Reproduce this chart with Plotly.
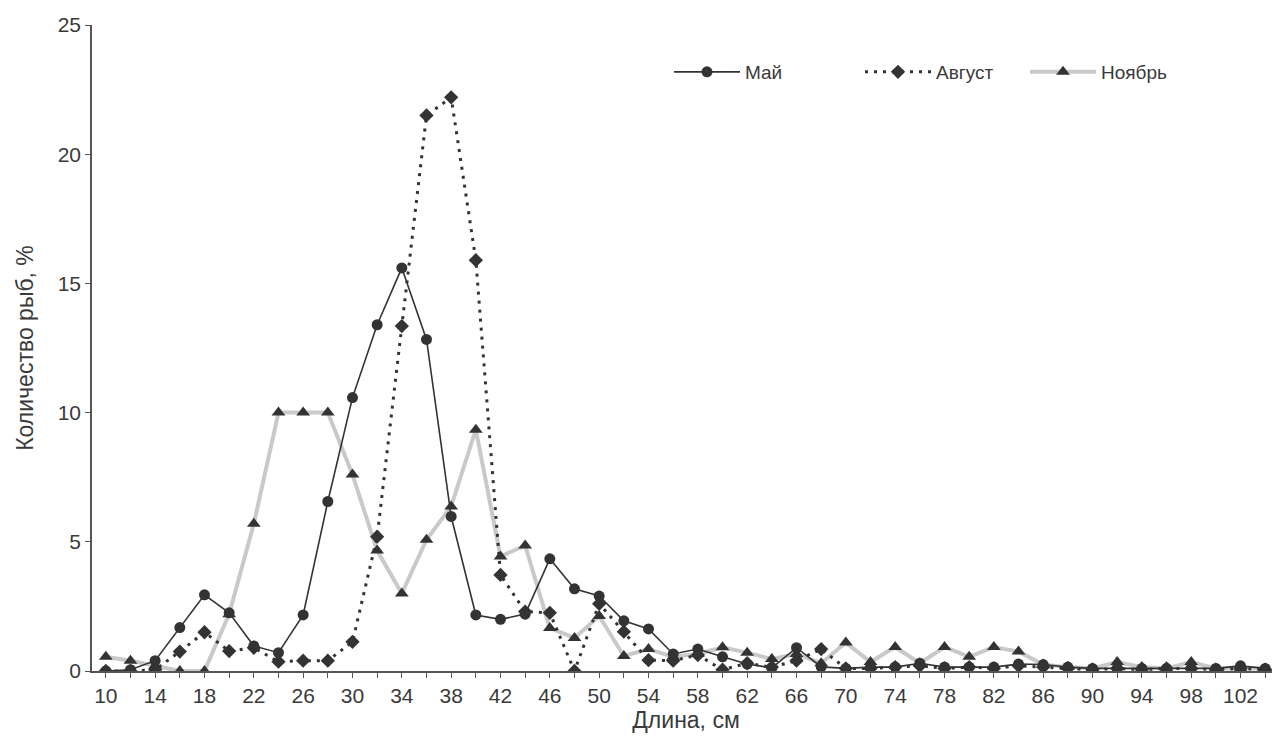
import plotly.graph_objects as go

lengths = [10, 12, 14, 16, 18, 20, 22, 24, 26, 28, 30, 32, 34, 36, 38, 40,
           42, 44, 46, 48, 50, 52, 54, 56, 58, 60, 62, 64, 66, 68, 70, 72,
           74, 76, 78, 80, 82, 84, 86, 88, 90, 92, 94, 96, 98, 100, 102, 104]

may = [0.0, 0.05, 0.4, 1.68, 2.95, 2.25, 0.97, 0.71, 2.17, 6.56, 10.58, 13.4,
       15.6, 12.83, 5.98, 2.17, 2.0, 2.2, 4.34, 3.18, 2.9, 1.94, 1.63, 0.66,
       0.85, 0.55, 0.27, 0.12, 0.9, 0.16, 0.1, 0.15, 0.15, 0.3, 0.15, 0.15,
       0.15, 0.27, 0.25, 0.15, 0.1, 0.1, 0.1, 0.1, 0.1, 0.1, 0.2, 0.1]

august = [0.0, 0.0, 0.05, 0.75, 1.5, 0.77, 0.9, 0.36, 0.4, 0.4, 1.13, 5.2,
          13.35, 21.5, 22.2, 15.9, 3.72, 2.3, 2.25, 0.0, 2.6, 1.52, 0.42, 0.4,
          0.62, 0.05, 0.3, 0.15, 0.4, 0.85, 0.1, 0.1, 0.15, 0.2, 0.1, 0.15,
          0.1, 0.2, 0.15, 0.1, 0.05, 0.1, 0.05, 0.1, 0.1, 0.05, 0.1, 0.05]

november = [0.55, 0.4, 0.2, 0.0, 0.0, 2.2, 5.7, 10.0, 10.0, 10.0, 7.6, 4.66,
            3.0, 5.08, 6.37, 9.34, 4.43, 4.86, 1.66, 1.28, 2.13, 0.58, 0.85, 0.55,
            0.66, 0.92, 0.71, 0.46, 0.66, 0.3, 1.1, 0.35, 0.93, 0.3, 0.93, 0.55,
            0.93, 0.75, 0.25, 0.15, 0.1, 0.35, 0.15, 0.1, 0.35, 0.1, 0.1, 0.1]

series_names = ["Май", "Август", "Ноябрь"]
x_title = "Длина, см"
y_title = "Количество рыб, %"
y_ticks = [0, 5, 10, 15, 20, 25]

tick_text = [str(v) if i % 2 == 0 else "" for i, v in enumerate(lengths)]

FONT = "Liberation Sans, Arial, sans-serif"
FS_TICK = 21
FS_TITLE = 23
FS_LEG = 19
TXT = "#3a3a3a"
DARK = "#333333"

fig = go.Figure()

fig.add_trace(go.Scatter(
    x=lengths, y=november, name=series_names[2], mode="lines+markers",
    line=dict(color="#c9c9c9", width=4),
    marker=dict(symbol="triangle-up", size=12, color=DARK),
    legend="legend3", showlegend=True))

fig.add_trace(go.Scatter(
    x=lengths, y=may, name=series_names[0], mode="lines+markers",
    line=dict(color=DARK, width=1.6),
    marker=dict(symbol="circle", size=11, color=DARK),
    legend="legend", showlegend=True))

fig.add_trace(go.Scatter(
    x=lengths, y=august, name=series_names[1], mode="lines+markers",
    line=dict(color=DARK, width=3, dash="3px,6px"),
    marker=dict(symbol="diamond", size=11, color=DARK),
    legend="legend2", showlegend=True))

# page body has an 8px margin; plot area in page coordinates:
OFF = 8
W0, W1 = 92, 1280
T0, B0 = 25, 671
FW, FH = 1280 - OFF, 738 - OFF

def px_x(p):
    return (p - W0) / (W1 - W0)

def px_y(p):
    return (B0 - p) / (B0 - T0)

leg_common = dict(orientation="h", xanchor="left", yanchor="middle",
                  bgcolor="rgba(0,0,0,0)", font=dict(family=FONT, size=FS_LEG, color=TXT),
                  itemwidth=66)

fig.update_layout(
    width=FW, height=FH, showlegend=True,
    margin=dict(l=W0 - OFF, r=FW - (W1 - OFF), t=T0 - OFF, b=FH - (B0 - OFF)),
    paper_bgcolor="white", plot_bgcolor="white",
    font=dict(family=FONT, size=FS_LEG, color=TXT),
    legend=dict(x=px_x(669), y=px_y(72), **leg_common),
    legend2=dict(x=px_x(860), y=px_y(72), **leg_common),
    legend3=dict(x=px_x(1025), y=px_y(72), **leg_common),
    xaxis=dict(
        range=[8.88, 105.2], tickvals=lengths, ticktext=tick_text,
        showgrid=False, zeroline=False, showline=True, linecolor="#555555",
        linewidth=1.5, ticks="outside", ticklen=5, tickcolor="#555555",
        tickfont=dict(family=FONT, size=FS_TICK, color=TXT),
        title=dict(text=x_title, font=dict(family=FONT, size=FS_TITLE, color=TXT), standoff=1),
    ),
    yaxis=dict(
        range=[0, 25], tickvals=y_ticks,
        showgrid=False, zeroline=False, showline=True, linecolor="#555555",
        linewidth=1.5, ticks="outside", ticklen=5, tickcolor="#555555",
        tickfont=dict(family=FONT, size=FS_TICK, color=TXT),
        title=dict(text=y_title, font=dict(family=FONT, size=FS_TITLE, color=TXT), standoff=18),
    ),
)

fig.write_html("out.html")
